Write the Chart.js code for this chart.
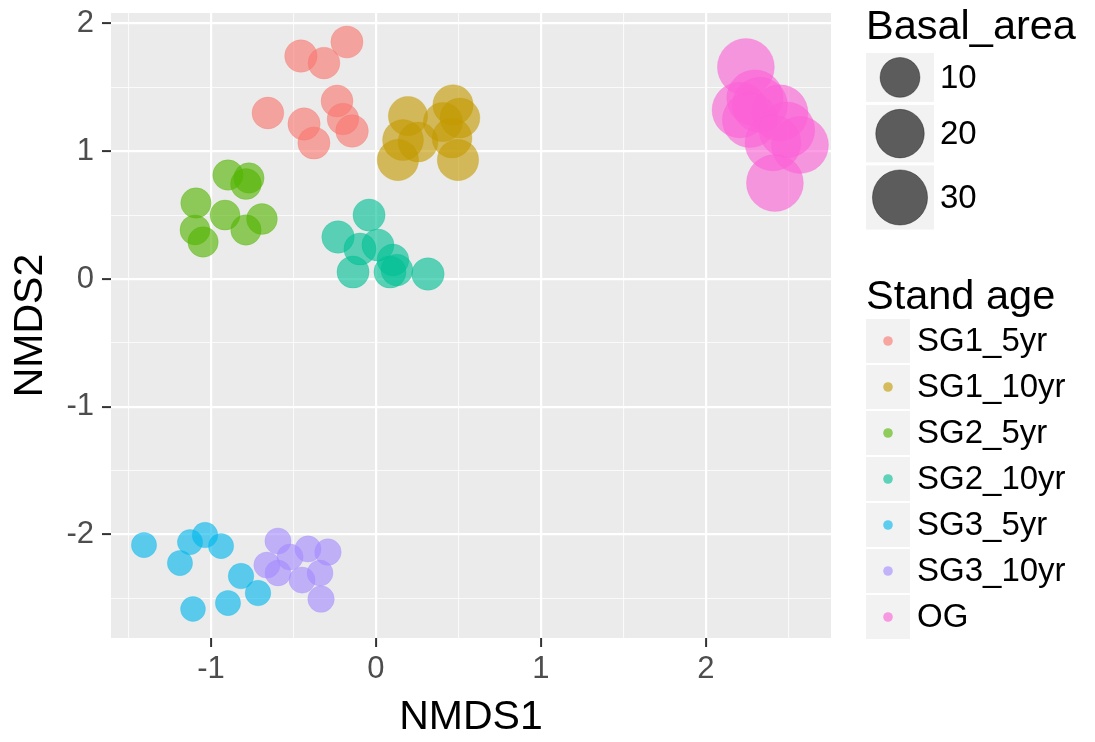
<!DOCTYPE html>
<html>
<head>
<meta charset="utf-8">
<title>NMDS ordination by stand age</title>
<script src="https://cdn.jsdelivr.net/npm/chart.js@4.4.1/dist/chart.umd.min.js"></script>
<style>
  html, body { margin: 0; padding: 0; background: #ffffff; }
  #wrap { width: 1095px; height: 742px; }
</style>
</head>
<body>
<div id="wrap"><canvas id="nmds" width="1095" height="742"></canvas></div>
<script>
// Stand age groups and their colours
const groups = ['SG1_5yr', 'SG1_10yr', 'SG2_5yr', 'SG2_10yr', 'SG3_5yr', 'SG3_10yr', 'OG'];
const groupColors = ['#F8766D', '#C49A00', '#53B400', '#00C094', '#00B6EB', '#A58AFF', '#FB61D7'];

// NMDS site scores and basal area per plot, one set of arrays per stand age
const sg1_5_x  = [-0.176, -0.455, -0.315, -0.655, -0.236, -0.436, -0.200, -0.145, -0.376];
const sg1_5_y  = [1.856, 1.746, 1.691, 1.300, 1.394, 1.214, 1.253, 1.159, 1.065];
const sg1_5_ba = [4.0, 4.2, 3.8, 3.8, 3.9, 4.1, 3.7, 4.3, 4.0];

const sg1_10_x  = [0.194, 0.467, 0.509, 0.164, 0.255, 0.406, 0.461, 0.133, 0.497];
const sg1_10_y  = [1.276, 1.363, 1.261, 1.088, 1.073, 1.229, 1.104, 0.932, 0.932];
const sg1_10_ba = [9.5, 10.5, 10.0, 11.0, 10.0, 9.5, 10.0, 11.5, 11.5];

const sg2_5_x  = [-0.897, -0.770, -0.788, -1.091, -0.915, -0.691, -0.788, -1.097, -1.048];
const sg2_5_y  = [0.814, 0.791, 0.744, 0.595, 0.501, 0.470, 0.384, 0.384, 0.290];
const sg2_5_ba = [3.0, 3.0, 3.2, 3.0, 2.8, 3.2, 3.0, 2.8, 3.0];

const sg2_10_x  = [-0.042, -0.230, -0.097, 0.012, 0.103, -0.139, 0.085, 0.127, 0.315];
const sg2_10_y  = [0.501, 0.329, 0.235, 0.266, 0.149, 0.055, 0.055, 0.070, 0.039];
const sg2_10_ba = [4.0, 4.2, 4.0, 4.0, 3.8, 4.0, 4.0, 3.8, 4.2];

const sg3_5_x  = [-1.406, -1.127, -1.036, -0.939, -1.188, -0.818, -0.715, -0.897, -1.109];
const sg3_5_y  = [-2.083, -2.060, -2.005, -2.091, -2.224, -2.326, -2.459, -2.537, -2.584];
const sg3_5_ba = [0.9, 0.9, 1.0, 0.9, 0.9, 1.0, 1.0, 0.9, 0.8];

const sg3_10_x  = [-0.594, -0.412, -0.291, -0.661, -0.521, -0.594, -0.448, -0.339, -0.333];
const sg3_10_y  = [-2.052, -2.114, -2.138, -2.240, -2.177, -2.302, -2.357, -2.302, -2.506];
const sg3_10_ba = [1.2, 1.2, 1.3, 1.2, 1.2, 1.1, 1.2, 1.1, 1.3];

const og_x  = [2.242, 2.206, 2.297, 2.327, 2.448, 2.267, 2.491, 2.570, 2.406, 2.418];
const og_y  = [1.660, 1.323, 1.417, 1.363, 1.300, 1.245, 1.167, 1.049, 1.065, 0.752];
const og_ba = [33, 31, 32, 30, 32, 30, 31, 33, 31, 33];

const groupX  = [sg1_5_x, sg1_10_x, sg2_5_x, sg2_10_x, sg3_5_x, sg3_10_x, og_x];
const groupY  = [sg1_5_y, sg1_10_y, sg2_5_y, sg2_10_y, sg3_5_y, sg3_10_y, og_y];
const groupBA = [sg1_5_ba, sg1_10_ba, sg2_5_ba, sg2_10_ba, sg3_5_ba, sg3_10_ba, og_ba];

// Axis ticks: labelled majors and unlabelled minor grid lines
const xMajorTicks = [-1, 0, 1, 2];
const xMinorTicks = [-1.5, -0.5, 0.5, 1.5, 2.5];
const yMajorTicks = [-2, -1, 0, 1, 2];
const yMinorTicks = [-2.5, -1.5, -0.5, 0.5, 1.5];
const sizeLegendValues = [10, 20, 30];

const POINT_ALPHA = 0.62;

// Basal area -> point radius in pixels (radius grows with sqrt of area)
function radiusFor(ba) { return 10 + 3.3 * Math.sqrt(ba); }

function withAlpha(hex, a) {
  const n = parseInt(hex.slice(1), 16);
  return 'rgba(' + ((n >> 16) & 255) + ',' + ((n >> 8) & 255) + ',' + (n & 255) + ',' + a + ')';
}

const datasets = groups.map((name, g) => ({
  label: name,
  data: groupX[g].map((x, i) => ({ x: x, y: groupY[g][i] })),
  backgroundColor: withAlpha(groupColors[g], POINT_ALPHA),
  borderColor: withAlpha(groupColors[g], 0.25),
  borderWidth: 1,
  pointRadius: (ctx) => radiusFor(groupBA[g][ctx.dataIndex]) - 0.5,
  pointHoverRadius: (ctx) => radiusFor(groupBA[g][ctx.dataIndex]) - 0.5,
  clip: false
}));

const FONT = '"Liberation Sans", Arial, Helvetica, sans-serif';

const isMajor = (v, majors) => majors.some(m => Math.abs(m - v) < 1e-9);

function axisOptions(majors, minors, min, max, title, isY) {
  return {
    type: 'linear',
    min: min,
    max: max,
    afterBuildTicks: (s) => {
      s.ticks = majors.concat(minors).sort((a, b) => a - b).map(v => ({ value: v }));
    },
    afterFit: (s) => {
      if (isY) { s.width = 111; } else { s.height = 104; }
      s.paddingTop = 0; s.paddingBottom = 0;
      s.paddingLeft = 0; s.paddingRight = 0;
    },
    ticks: {
      autoSkip: false,
      maxRotation: 0,
      color: '#4D4D4D',
      font: { family: FONT, size: 31 },
      padding: isY ? 8 : 4,
      callback: (v) => isMajor(v, majors) ? String(v) : ''
    },
    grid: {
      drawOnChartArea: true,
      drawTicks: true,
      tickLength: 9,
      color: (c) => isMajor(c.tick.value, majors) ? '#FFFFFF' : 'rgba(255,255,255,0.75)',
      lineWidth: (c) => isMajor(c.tick.value, majors) ? 2.2 : 1.1,
      tickColor: (c) => isMajor(c.tick.value, majors) ? '#333333' : 'rgba(0,0,0,0)',
      tickWidth: 2
    },
    border: { display: false },
    title: {
      display: true,
      text: title,
      color: '#000000',
      font: { family: FONT, size: 41 },
      padding: isY ? { top: 6, bottom: 0 } : { top: 0, bottom: 0 }
    }
  };
}

// Grey panel behind the plotting region
const panelBackground = {
  id: 'panelBackground',
  beforeDraw(chart) {
    const a = chart.chartArea;
    const ctx = chart.ctx;
    ctx.save();
    ctx.fillStyle = '#EBEBEB';
    ctx.fillRect(a.left, a.top, a.right - a.left, a.bottom - a.top);
    ctx.restore();
  }
};

// Two legends on the right: point size (basal area) and colour (stand age)
const sideLegends = {
  id: 'sideLegends',
  afterDraw(chart) {
    const ctx = chart.ctx;
    const left = 866;
    ctx.save();
    ctx.textAlign = 'left';

    // Basal area legend
    ctx.fillStyle = '#000000';
    ctx.font = '41.5px ' + FONT;
    ctx.textBaseline = 'alphabetic';
    ctx.fillText('Basal_area', left, 39);

    const keyW = 68;
    let y = 53;
    ctx.font = '33px ' + FONT;
    sizeLegendValues.forEach((v) => {
      const r = radiusFor(v);
      const h = Math.max(2 * r + 8, 44);
      ctx.fillStyle = '#F2F2F2';
      ctx.fillRect(left, y, keyW, h);
      const cy = y + h / 2;
      ctx.beginPath();
      ctx.arc(left + keyW / 2, cy, r - 0.5, 0, Math.PI * 2);
      ctx.fillStyle = 'rgba(0,0,0,' + POINT_ALPHA + ')';
      ctx.fill();
      ctx.lineWidth = 1;
      ctx.strokeStyle = 'rgba(0,0,0,0.35)';
      ctx.stroke();
      ctx.fillStyle = '#000000';
      ctx.textBaseline = 'middle';
      ctx.fillText(String(v), left + keyW + 6, cy + 1);
      y += h + 3;
    });

    // Stand age legend
    ctx.fillStyle = '#000000';
    ctx.font = '41.5px ' + FONT;
    ctx.textBaseline = 'alphabetic';
    ctx.fillText('Stand age', left, 309);

    const rowH = 46;
    ctx.font = '33px ' + FONT;
    groups.forEach((name, g) => {
      const top = 319 + g * rowH;
      ctx.fillStyle = '#F2F2F2';
      ctx.fillRect(left, top, 44, rowH - 2);
      const cy = top + (rowH - 2) / 2;
      ctx.beginPath();
      ctx.arc(left + 22, cy, 4.8, 0, Math.PI * 2);
      ctx.fillStyle = withAlpha(groupColors[g], POINT_ALPHA);
      ctx.fill();
      ctx.fillStyle = '#000000';
      ctx.textBaseline = 'middle';
      ctx.fillText(name, left + 51, cy + 1);
    });
    ctx.restore();
  }
};

new Chart(document.getElementById('nmds'), {
  type: 'scatter',
  data: { datasets: datasets },
  options: {
    responsive: false,
    devicePixelRatio: 1,
    animation: false,
    layout: { autoPadding: false, padding: { top: 13, right: 264, bottom: 0, left: 0 } },
    plugins: {
      legend: { display: false },
      tooltip: { enabled: false }
    },
    scales: {
      x: axisOptions(xMajorTicks, xMinorTicks, -1.606, 2.758, 'NMDS1', false),
      y: axisOptions(yMajorTicks, yMinorTicks, -2.811, 2.083, 'NMDS2', true)
    }
  },
  plugins: [panelBackground, sideLegends]
});
</script>
</body>
</html>
